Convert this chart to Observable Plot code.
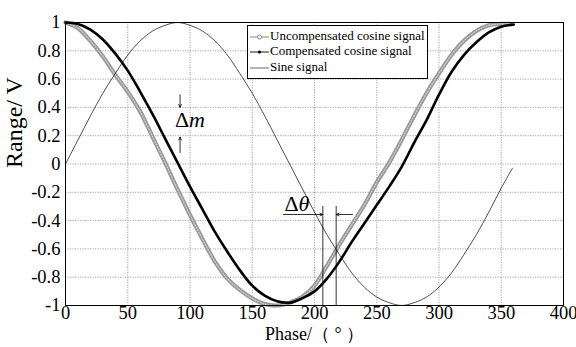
<!DOCTYPE html>
<html><head><meta charset="utf-8">
<script src="https://cdn.jsdelivr.net/npm/d3@7"></script>
<script src="https://cdn.jsdelivr.net/npm/@observablehq/plot@0.6"></script>
<style>
html,body{margin:0;padding:0;background:#fff;}
#wrap{position:relative;width:576px;height:347px;}
#legend{position:absolute;left:247px;top:25px;width:179px;height:52px;border:1px solid #000;background:#fff;font-family:"Liberation Serif","Times New Roman",serif;font-size:13px;color:#000;}
#legend .row{position:absolute;left:2px;height:14px;line-height:14px;white-space:nowrap;}
#legend svg{vertical-align:middle;margin-right:1px;}
</style></head>
<body><div id="wrap"></div>
<script>
// ---- data ----
const xTicks = [0, 50, 100, 150, 200, 250, 300, 350, 400];
const xTickLabels = ["0", "50", "100", "150", "200", "250", "300", "350", "400"];
const yTicks = [-1, -0.8, -0.6, -0.4, -0.2, 0, 0.2, 0.4, 0.6, 0.8, 1];
const yTickLabels = ["-1", "-0.8", "-0.6", "-0.4", "-0.2", "0", "0.2", "0.4", "0.6", "0.8", "1"];

const seriesNames = ["Uncompensated cosine signal", "Compensated cosine signal", "Sine signal"];

const phaseU = [0,10,20,30,40,50,60,70,80,90,100,110,120,130,140,150,160,170,180,190,200,210,220,230,240,250,260,270,280,290,300,310,320,330,340,350,357];
const uncompensated = [1.0,0.96,0.87,0.76,0.63,0.51,0.37,0.19,0.01,-0.18,-0.36,-0.53,-0.69,-0.81,-0.89,-0.95,-0.99,-1.0,-0.98,-0.94,-0.86,-0.72,-0.57,-0.43,-0.29,-0.13,0.01,0.17,0.34,0.5,0.64,0.77,0.87,0.94,0.98,0.99,0.99];

const phaseC = [0,10,20,30,40,50,60,70,80,90,100,110,120,130,140,150,160,170,180,190,200,210,220,230,240,250,260,270,280,290,300,310,320,330,340,350,360];
const compensated = [1.0,0.99,0.95,0.88,0.78,0.66,0.51,0.35,0.18,0.01,-0.16,-0.32,-0.48,-0.62,-0.75,-0.86,-0.93,-0.97,-0.98,-0.95,-0.9,-0.81,-0.69,-0.55,-0.42,-0.29,-0.16,-0.02,0.15,0.31,0.49,0.65,0.77,0.86,0.93,0.97,0.985];

const phaseS = [0,10,20,30,40,50,60,70,80,90,100,110,120,130,140,150,160,170,180,190,200,210,220,230,240,250,260,270,280,290,300,310,320,330,340,350,359];
const sine = [0,0.17,0.34,0.5,0.64,0.77,0.87,0.94,0.98,1,0.98,0.94,0.87,0.77,0.64,0.5,0.34,0.17,0,-0.17,-0.34,-0.5,-0.64,-0.77,-0.87,-0.94,-0.98,-1,-0.98,-0.94,-0.87,-0.77,-0.64,-0.5,-0.34,-0.17,-0.03];

// annotations (data coordinates)
const dmX = 92;
const dmArrows = [{x1: dmX, y1: 0.49, x2: dmX, y2: 0.40}, {x1: dmX, y1: 0.08, x2: dmX, y2: 0.19}];
const dmLabel = {x: 88, y: 0.31};
const dtLines = [206.7, 217.4];
const dtTop = -0.3;
const dtArrowY = -0.357;
const dtArrows = [{x1: 175, x2: 206.7}, {x1: 230.5, x2: 217.4}];
const dtLabel = {x: 176, y: -0.285};

// ---- build ----
const toRows = (xs, ys) => xs.map((x, i) => ({x, y: ys[i]}));
const U = toRows(phaseU, uncompensated);
const C = toRows(phaseC, compensated);
const S = toRows(phaseS, sine);

const serif = '"Liberation Serif","Times New Roman",serif';
const gridStyle = {stroke: "#8c8c8c", strokeOpacity: 1, strokeDasharray: "1.2,1.3", strokeWidth: 0.8};
const tickFont = 18.5;

const chart = Plot.plot({
  width: 576, height: 347,
  marginLeft: 65, marginRight: 13, marginTop: 22, marginBottom: 42,
  style: {fontFamily: serif, fontSize: "17px", background: "white", color: "black", overflow: "visible"},
  x: {domain: [0, 400], axis: null},
  y: {domain: [-1, 1], axis: null},
  marks: [
    Plot.gridX(xTicks, gridStyle),
    Plot.gridY(yTicks, gridStyle),
    // tick labels
    Plot.text(xTicks, {x: d => d, frameAnchor: "bottom", dy: 13, text: d => xTickLabels[xTicks.indexOf(d)], fontSize: tickFont, fontFamily: serif, fill: "#000"}),
    Plot.text(yTicks, {y: d => d, frameAnchor: "left", textAnchor: "end", dx: -5, text: d => yTickLabels[yTicks.indexOf(d)], fontSize: tickFont, fontFamily: serif, fill: "#000"}),
    // uncompensated: dense grey ring markers -> grey band
    Plot.line(U, {x: "x", y: "y", stroke: "#979797", strokeWidth: 4.2, curve: "catmull-rom"}),
    Plot.line(U, {x: "x", y: "y", stroke: "#cfcfcf", strokeWidth: 1.2, strokeDasharray: "1.2,1.6", curve: "catmull-rom"}),
    // compensated: dense black dots
    Plot.line(C, {x: "x", y: "y", stroke: "#000", strokeWidth: 2.6, curve: "catmull-rom"}),
    // sine
    Plot.line(S, {x: "x", y: "y", stroke: "#222", strokeWidth: 0.8, curve: "catmull-rom"}),
    // Δm annotation
    Plot.arrow(dmArrows, {x1: "x1", y1: "y1", x2: "x2", y2: "y2", stroke: "#000", strokeWidth: 0.8, headLength: 6, headAngle: 50}),
    Plot.text([dmLabel], {x: "x", y: "y", text: () => "Δ", textAnchor: "start", fontSize: 22, fontFamily: serif, fill: "#000"}),
    Plot.text([dmLabel], {x: "x", y: "y", text: () => "m", textAnchor: "start", dx: 14, fontSize: 22, fontFamily: serif, fontStyle: "italic", fill: "#000"}),
    // Δθ annotation
    Plot.ruleX(dtLines, {y1: dtTop, y2: -1, stroke: "#000", strokeWidth: 0.8}),
    Plot.arrow(dtArrows, {x1: "x1", x2: "x2", y1: dtArrowY, y2: dtArrowY, stroke: "#000", strokeWidth: 0.8, headLength: 6, headAngle: 50}),
    Plot.text([dtLabel], {x: "x", y: "y", text: () => "Δ", textAnchor: "start", fontSize: 22, fontFamily: serif, fill: "#000"}),
    Plot.text([dtLabel], {x: "x", y: "y", text: () => "θ", textAnchor: "start", dx: 14, fontSize: 22, fontFamily: serif, fontStyle: "italic", fill: "#000"}),
    // axis titles
    Plot.text(["Phase/（ ° ）"], {frameAnchor: "bottom", dy: 34, fontSize: 18, fontFamily: serif, fill: "#000"}),
    Plot.text(["Range/ V"], {frameAnchor: "left", dx: -51, dy: 4, rotate: -90, fontSize: 24, fontFamily: serif, fill: "#000"}),
    Plot.frame({stroke: "#000", strokeWidth: 1})
  ]
});

const wrap = document.getElementById("wrap");
wrap.appendChild(chart);

// legend
const legend = document.createElement("div");
legend.id = "legend";
const samples = [
  `<svg width="19" height="10"><line x1="0" y1="5" x2="19" y2="5" stroke="#777" stroke-width="0.9"/><circle cx="9.5" cy="5" r="2" fill="#fff" stroke="#777" stroke-width="0.9"/></svg>`,
  `<svg width="19" height="10"><line x1="0" y1="5" x2="19" y2="5" stroke="#000" stroke-width="0.9"/><circle cx="9.5" cy="5" r="1.6" fill="#000"/></svg>`,
  `<svg width="19" height="10"><line x1="0" y1="5" x2="19" y2="5" stroke="#555" stroke-width="0.9"/></svg>`
];
const rowTops = [3, 18, 34];
seriesNames.forEach((name, i) => {
  const r = document.createElement("div");
  r.className = "row";
  r.style.top = rowTops[i] + "px";
  r.innerHTML = samples[i] + `<span>${name}</span>`;
  legend.appendChild(r);
});
wrap.appendChild(legend);
</script>
</body></html>
